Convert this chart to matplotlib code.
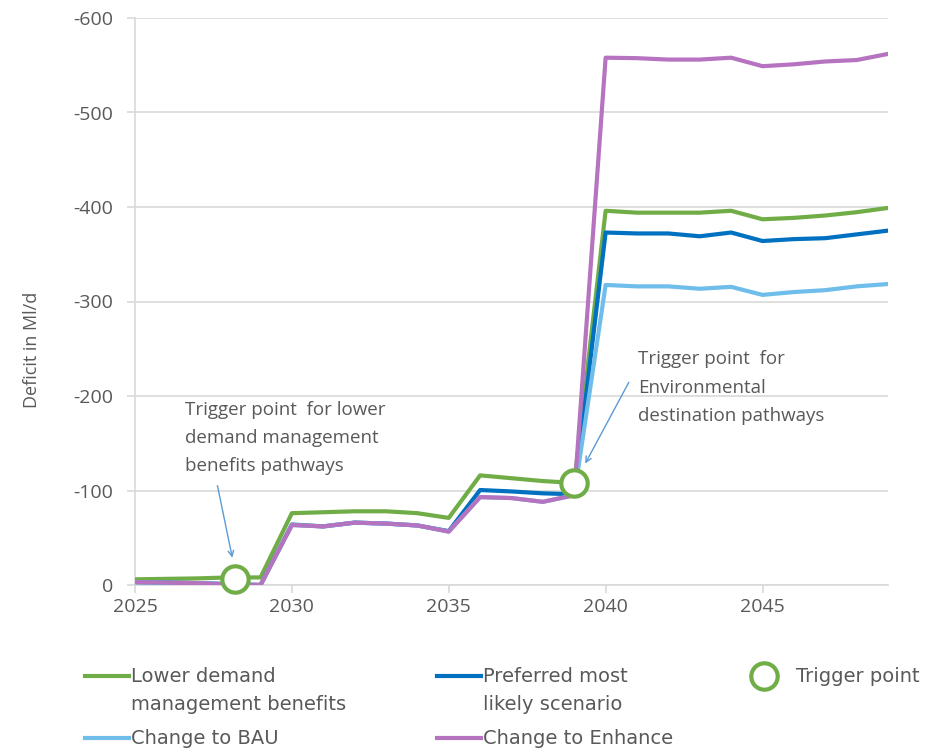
import matplotlib
matplotlib.use("Agg")
import matplotlib.pyplot as plt
from matplotlib.lines import Line2D

# Data (deficit in Ml/d, negative values)
years = list(range(2025, 2050))
lower_demand = [-6, -6.5, -7, -8, -8, -76, -77, -78, -78, -76, -71,
                -116, -113, -110, -108,
                -396, -394, -394, -394, -396, -387, -388.5, -391, -394.5, -399]
preferred = [-3, -2.5, -2, -1, 0, -64, -62, -66, -65, -63, -57,
             -100.5, -99, -97, -96,
             -373, -372, -372, -369, -373, -364, -366, -367, -371, -375]
change_bau = [-3, -2.5, -2, -1, 0, -63.5, -62, -66, -65, -63, -56.5,
              -93, -92, -88, -95,
              -317.5, -316, -316, -313.5, -315.5, -307, -310, -312, -316, -318.5]
change_enhance = [-3, -2.5, -2, -0.5, 0, -63.5, -62, -66, -65, -63, -56.5,
                  -93, -92, -88, -95,
                  -558, -557.5, -556, -556, -558, -549, -551, -554, -555.5, -562]
trigger_x = [2028.2, 2039]
trigger_y = [-6, -108]

green = "#70AD47"
blue = "#0070C0"
lightblue = "#6FBDEA"
purple = "#B673C0"
grey_txt = "#595959"
grid_c = "#D9D9D9"

W, H = 935, 750
fig = plt.figure(figsize=(W / 100, H / 100), dpi=100)
ax = fig.add_axes([135 / W, 1 - 585 / H, (888 - 135) / W, (585 - 18) / H])

lw = 3.0
ax.plot(years, lower_demand, color=green, lw=lw, zorder=3)
ax.plot(years, preferred, color=blue, lw=lw, zorder=4)
ax.plot(years, change_bau, color=lightblue, lw=lw, zorder=5)
ax.plot(years, change_enhance, color=purple, lw=lw, zorder=6)
ax.plot(trigger_x, trigger_y, linestyle="none", marker="o", markersize=19,
        markerfacecolor="white", markeredgecolor=green, markeredgewidth=3,
        zorder=8, clip_on=False)

ax.set_xlim(2025, 2049)
ax.set_ylim(0, -600)
ax.set_xticks([2025, 2030, 2035, 2040, 2045])
ax.set_yticks(range(0, -700, -100))
ax.set_yticklabels([str(v) for v in range(0, -700, -100)])
ax.grid(axis="y", color=grid_c, lw=1.2)
ax.set_axisbelow(True)
for s in ["top", "right"]:
    ax.spines[s].set_visible(False)
for s in ["left", "bottom"]:
    ax.spines[s].set_color(grid_c)
    ax.spines[s].set_linewidth(1.2)
ax.tick_params(axis="both", colors=grid_c, labelcolor=grey_txt,
               labelsize=14, length=6, width=1.2)
ax.tick_params(axis="x", pad=3)
ax.tick_params(axis="y", pad=10)
for lab in ax.get_xticklabels() + ax.get_yticklabels():
    lab.set_family("Open Sans")

fig.text(32 / W, 1 - 350 / H, "Deficit in Ml/d", rotation=90, ha="center",
         va="center", fontsize=13, color=grey_txt, family="Open Sans")

# annotations
arrow_c = "#5B9BD5"
ax.annotate("", xy=(2028.12, -26), xytext=(2027.61, -108),
            arrowprops=dict(arrowstyle="->", color=arrow_c, lw=1), zorder=9)
ax.annotate("", xy=(2039.31, -126), xytext=(2040.78, -217),
            arrowprops=dict(arrowstyle="->", color=arrow_c, lw=1), zorder=9)

def note(x, ys, lines):
    for y, t in zip(ys, lines):
        fig.text(x / W, 1 - y / H, t, ha="left", va="center", fontsize=13.5,
                 color=grey_txt, family="Open Sans")

note(185, [410, 438, 466], ["Trigger point  for lower", "demand management",
                            "benefits pathways"])
note(638, [359, 388, 416], ["Trigger point  for", "Environmental",
                            "destination pathways"])

# legend drawn by hand to match layout
def leg_line(x0, y, color, lines):
    fig.add_artist(Line2D([x0 / W, (x0 + 44) / W], [1 - y / H, 1 - y / H],
                          color=color, lw=3, transform=fig.transFigure))
    for i, t in enumerate(lines):
        fig.text((x0 + 46) / W, 1 - (y + 28 * i) / H, t, ha="left",
                 va="center", fontsize=14, color=grey_txt)

leg_line(85, 676, green, ["Lower demand", "management benefits"])
leg_line(437, 676, blue, ["Preferred most", "likely scenario"])
leg_line(85, 738, lightblue, ["Change to BAU"])
leg_line(437, 738, purple, ["Change to Enhance"])
fig.add_artist(Line2D([764 / W], [1 - 676 / H], marker="o", markersize=19,
                      markerfacecolor="white", markeredgecolor=green,
                      markeredgewidth=3, linestyle="none",
                      transform=fig.transFigure))
fig.text(796 / W, 1 - 676 / H, "Trigger point", ha="left", va="center",
         fontsize=14, color=grey_txt)

fig.savefig("out.png", dpi=100)
